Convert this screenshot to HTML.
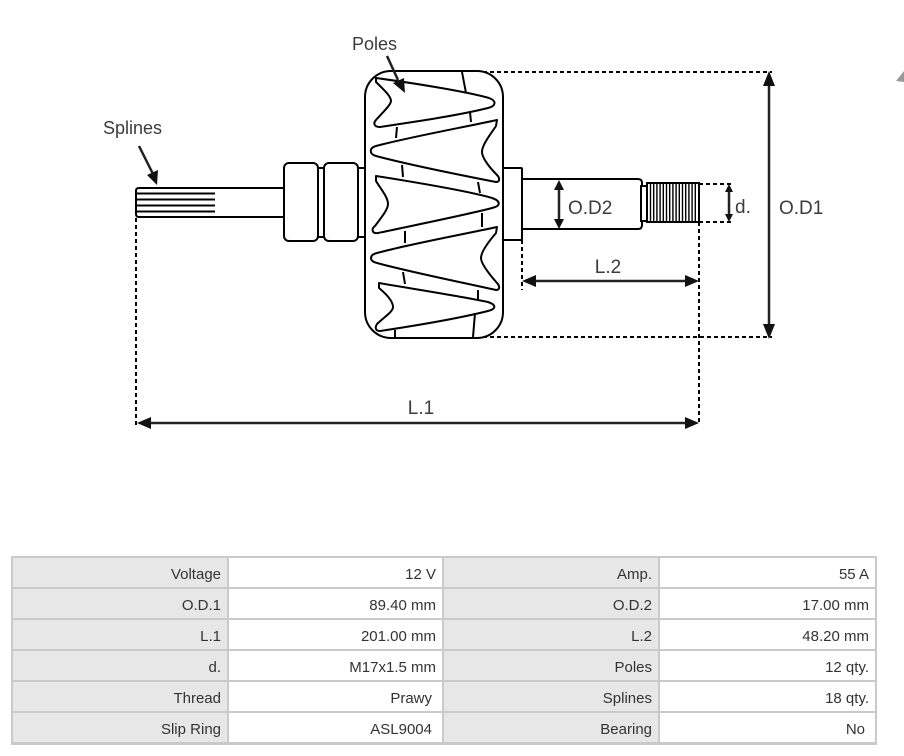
<!DOCTYPE html>
<html>
<head>
<meta charset="utf-8">
<style>
  html, body { margin:0; padding:0; background:#fff; }
  body { width:904px; height:756px; position:relative; overflow:hidden; }
  svg { position:absolute; left:0; top:0; }
  .tbl { position:absolute; left:11px; top:556px; width:866px; height:189px; background:#cacaca; }
  .c { position:absolute; height:29px; line-height:33px; font-family:"Liberation Sans", sans-serif; font-size:15px; color:#333; text-align:right; box-sizing:border-box; padding-right:6px; white-space:nowrap; overflow:hidden; }
  .l { background:#e7e7e7; }
  .v { background:#fff; }
</style>
</head>
<body>
<svg width="904" height="540" viewBox="0 0 904 540" xmlns="http://www.w3.org/2000/svg">
  <!-- dashed extension lines -->
  <g stroke="#000" stroke-width="2" stroke-dasharray="4,3" fill="none">
    <path d="M483,72 H772"/>
    <path d="M483,337 H772"/>
    <path d="M699,184 H734"/>
    <path d="M699,222 H734"/>
    <path d="M136,218 V425"/>
    <path d="M699,222 V425"/>
    <path d="M522,240 V290"/>
  </g>

  <!-- left shaft -->
  <g stroke="#000" stroke-width="2" fill="#fff">
    <path d="M139,188 H284 V217 H139 Q136,217 136,214 V191 Q136,188 139,188 Z"/>
    <rect x="318" y="168" width="6" height="69"/>
    <rect x="358" y="168" width="7" height="69"/>
    <rect x="284" y="163" width="34" height="78" rx="5"/>
    <rect x="324" y="163" width="34" height="78" rx="5"/>
  </g>
  <g stroke="#000" stroke-width="2">
    <path d="M137,193.5 H215 M137,199.5 H215 M137,205.5 H215 M137,211.5 H215"/>
  </g>

  <!-- right shaft -->
  <g stroke="#000" stroke-width="2" fill="#fff">
    <rect x="503" y="168" width="19" height="72" rx="1"/>
    <path d="M522,179 H638 Q642,179 642,183 V225 Q642,229 638,229 H522 Z"/>
    <rect x="641" y="186" width="6" height="35"/>
    <rect x="647" y="183" width="52" height="39"/>
  </g>
  <g stroke="#000" stroke-width="1.4">
    <path d="M650.5,183 V222 M653.7,183 V222 M656.9,183 V222 M660.1,183 V222 M663.3,183 V222 M666.5,183 V222 M669.7,183 V222 M672.9,183 V222 M676.1,183 V222 M679.3,183 V222 M682.5,183 V222 M685.7,183 V222 M688.9,183 V222 M692.1,183 V222 M695.3,183 V222"/>
  </g>

  <!-- rotor body -->
  <rect x="365" y="71" width="138" height="267" rx="26" stroke="#000" stroke-width="2" fill="#fff"/>
  <g stroke="#000" stroke-width="2" fill="#fff" stroke-linejoin="round">
    <!-- finger 1 (points right) -->
    <path d="M376,78 C420,84 468,92 489,98 C497,101 496,106 488,108 C460,115 420,121 380,127 C374,127 373,123 376,120 C382,113 391,105 391,101 C391,96 383,89 376,82 Z"/>
    <!-- finger 2 (points left) -->
    <path d="M497,120 C460,128 410,137 376,146 C369,148 369,154 376,156 C410,165 460,175 496,182 C500,182 500,178 497,175 C490,168 482,158 482,152 C482,145 490,135 496,126 Z"/>
    <!-- finger 3 (points right) -->
    <path d="M376,176 C420,183 468,191 492,198 C501,201 501,206 492,208 C470,214 420,224 378,233 C372,234 371,229 375,226 C380,219 388,210 388,204 C388,197 380,188 376,181 Z"/>
    <!-- finger 4 (points left) -->
    <path d="M497,227 C460,235 410,244 377,253 C369,255 369,261 377,263 C410,272 460,282 496,290 C500,290 500,286 497,283 C490,275 481,264 481,258 C481,251 490,240 496,233 Z"/>
    <!-- finger 5 (points right) -->
    <path d="M379,283 C420,290 465,297 488,302 C497,305 496,309 488,311 C460,318 420,325 380,331 C375,331 375,327 377,324 C383,318 393,312 393,307 C393,301 385,293 379,288 Z"/>
  </g>
  <g stroke="#000" stroke-width="2" fill="none">
    <path d="M462,72 L466,93"/>
    <path d="M397,127 L396,138"/>
    <path d="M470,112 L471,122"/>
    <path d="M402,165 L403,177"/>
    <path d="M478,182 L480,193"/>
    <path d="M405,231 L405,243"/>
    <path d="M482,213 L482,227"/>
    <path d="M403,272 L405,284"/>
    <path d="M478,290 L478,299"/>
    <path d="M395,330 L395,338"/>
    <path d="M475,313 L473,337"/>
  </g>

  <!-- dimension lines -->
  <g stroke="#222" stroke-width="2.5" fill="none">
    <path d="M769,84 V326"/>
    <path d="M729,191 V215"/>
    <path d="M559,188 V222"/>
    <path d="M534,281 H688"/>
    <path d="M149,423 H688"/>
    <path d="M139,146 L153,174"/>
    <path d="M387,56 L398,80"/>
  </g>
  <g fill="#111">
    <polygon points="769,71 763,86 775,86"/>
    <polygon points="769,339 763,324 775,324"/>
    <polygon points="729,184 725,192 733,192"/>
    <polygon points="729,222 725,214 733,214"/>
    <polygon points="559,180 554,190 564,190"/>
    <polygon points="559,229 554,219 564,219"/>
    <polygon points="522,281 536,275 536,287"/>
    <polygon points="699,281 685,275 685,287"/>
    <polygon points="137,423 151,417 151,429"/>
    <polygon points="699,423 685,417 685,429"/>
    <polygon points="157,185 147,175 158,170"/>
    <polygon points="405,93 393,83 404,78"/>
  </g>
  <polygon points="896,81 904,71 904,82" fill="#999"/>

  <!-- labels -->
  <g font-family="Liberation Sans, sans-serif" fill="#3c3c3c">
    <text x="352" y="50" font-size="18">Poles</text>
    <text x="103" y="134" font-size="18">Splines</text>
    <text x="568" y="214" font-size="19">O.D2</text>
    <text x="735" y="213" font-size="19">d.</text>
    <text x="779" y="214" font-size="19">O.D1</text>
    <text x="608" y="273" font-size="19" text-anchor="middle">L.2</text>
    <text x="421" y="414" font-size="19" text-anchor="middle">L.1</text>
  </g>
</svg>

<div class="tbl">
  <!-- row 1 -->
  <div class="c l" style="left:2px;top:2px;width:214px;">Voltage</div>
  <div class="c v" style="left:218px;top:2px;width:213px;">12 V</div>
  <div class="c l" style="left:433px;top:2px;width:214px;">Amp.</div>
  <div class="c v" style="left:649px;top:2px;width:215px;">55 A</div>
  <!-- row 2 -->
  <div class="c l" style="left:2px;top:33px;width:214px;">O.D.1</div>
  <div class="c v" style="left:218px;top:33px;width:213px;">89.40 mm</div>
  <div class="c l" style="left:433px;top:33px;width:214px;">O.D.2</div>
  <div class="c v" style="left:649px;top:33px;width:215px;">17.00 mm</div>
  <!-- row 3 -->
  <div class="c l" style="left:2px;top:64px;width:214px;">L.1</div>
  <div class="c v" style="left:218px;top:64px;width:213px;">201.00 mm</div>
  <div class="c l" style="left:433px;top:64px;width:214px;">L.2</div>
  <div class="c v" style="left:649px;top:64px;width:215px;">48.20 mm</div>
  <!-- row 4 -->
  <div class="c l" style="left:2px;top:95px;width:214px;">d.</div>
  <div class="c v" style="left:218px;top:95px;width:213px;">M17x1.5 mm</div>
  <div class="c l" style="left:433px;top:95px;width:214px;">Poles</div>
  <div class="c v" style="left:649px;top:95px;width:215px;">12 qty.</div>
  <!-- row 5 -->
  <div class="c l" style="left:2px;top:126px;width:214px;">Thread</div>
  <div class="c v" style="left:218px;top:126px;width:213px;padding-right:10px;">Prawy</div>
  <div class="c l" style="left:433px;top:126px;width:214px;">Splines</div>
  <div class="c v" style="left:649px;top:126px;width:215px;">18 qty.</div>
  <!-- row 6 -->
  <div class="c l" style="left:2px;top:157px;width:214px;">Slip Ring</div>
  <div class="c v" style="left:218px;top:157px;width:213px;padding-right:10px;">ASL9004</div>
  <div class="c l" style="left:433px;top:157px;width:214px;">Bearing</div>
  <div class="c v" style="left:649px;top:157px;width:215px;padding-right:10px;">No</div>
</div>
</body>
</html>
